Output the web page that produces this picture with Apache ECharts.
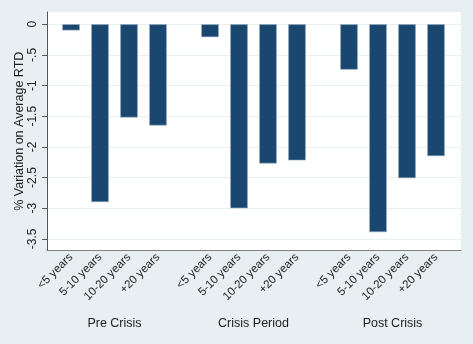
<!DOCTYPE html>
<html>
<head>
<meta charset="utf-8">
<script src="https://cdn.jsdelivr.net/npm/echarts@6/dist/echarts.min.js"></script>
<style>
  html, body { margin: 0; padding: 0; background: #e8eff2; }
  #chart { width: 473px; height: 344px; }
</style>
</head>
<body>
<div id="chart"></div>
<script>
// Average RTD variation by maturity bucket, per period
const periods = ['Pre Crisis', 'Crisis Period', 'Post Crisis'];
const maturities = ['<5 years', '5-10 years', '10-20 years', '+20 years'];
const preCrisis = [-0.10, -2.90, -1.52, -1.65];
const crisisPeriod = [-0.21, -3.00, -2.27, -2.22];
const postCrisis = [-0.74, -3.39, -2.51, -2.15];
const yTicks = [0, -0.5, -1, -1.5, -2, -2.5, -3, -3.5];

const groupValues = [preCrisis, crisisPeriod, postCrisis];

const Y_MIN = -3.69, Y_MAX = 0.2;
const PLOT = { left: 47, top: 12, right: 12, bottom: 93.5 };
const SLOT = 29, PAD = 9.5, GAP = 23;
const GROUP_W = SLOT * maturities.length;
const FONT = 'Liberation Sans, Arial, sans-serif';
const BAR = '#1a476f';

// Stata-style tick text: "-.5" instead of "-0.5"
function fmt(v) {
  if (v === 0) return '0';
  return String(v).replace(/^(-?)0\./, '$1.');
}

const grids = [{ left: PLOT.left, top: PLOT.top, right: PLOT.right, bottom: PLOT.bottom,
  show: true, backgroundColor: '#ffffff', borderWidth: 0 }];
// Full-width bottom axis line of the plot region
const xAxes = [{
  gridIndex: 0, type: 'value', min: 0, max: 1,
  axisLine: { show: true, onZero: false, lineStyle: { color: '#808080', width: 1.2 } },
  axisTick: { show: false }, axisLabel: { show: false }, splitLine: { show: false }
}];
const yAxes = [{
  gridIndex: 0, type: 'value', min: Y_MIN, max: Y_MAX,
  name: '% Variation on Average RTD', nameLocation: 'middle', nameGap: 21,
  nameMoveOverlap: false,
  nameTextStyle: { fontFamily: FONT, fontSize: 12.5, color: '#222' },
  axisLine: { show: true, lineStyle: { color: '#555', width: 1 } },
  axisTick: { show: true, length: 5, customValues: yTicks, lineStyle: { color: '#555' } },
  axisLabel: { customValues: yTicks, rotate: 90, margin: 8, formatter: fmt,
    fontFamily: FONT, fontSize: 12, color: '#222' },
  splitLine: { show: true, lineStyle: { color: '#e9f0f2', width: 1 } }
}];
const series = [];

periods.forEach((p, g) => {
  const idx = g + 1;
  const left = PLOT.left + PAD + g * (GROUP_W + GAP);
  grids.push({ left: left, width: GROUP_W, top: PLOT.top, bottom: PLOT.bottom });
  xAxes.push({
    gridIndex: idx, type: 'category', data: maturities,
    name: p, nameLocation: 'middle', nameGap: 67,
    nameTextStyle: { fontFamily: FONT, fontSize: 12.5, color: '#222' },
    axisLine: { show: false }, axisTick: { show: false },
    axisLabel: { rotate: 45, margin: 5, interval: 0, fontFamily: FONT, fontSize: 11.5, color: '#222' }
  });
  yAxes.push({ gridIndex: idx, type: 'value', min: Y_MIN, max: Y_MAX, show: false,
    splitLine: { show: false } });
  series.push({
    type: 'bar', xAxisIndex: idx, yAxisIndex: idx, data: groupValues[g],
    barWidth: 17.5,
    itemStyle: { color: BAR, borderColor: '#8ea7bd', borderWidth: 0.6 }
  });
});

const chart = echarts.init(document.getElementById('chart'), null, { renderer: 'canvas' });
chart.setOption({
  backgroundColor: '#e8eff2',
  animation: false,
  grid: grids,
  xAxis: xAxes,
  yAxis: yAxes,
  series: series
});
</script>
</body>
</html>
